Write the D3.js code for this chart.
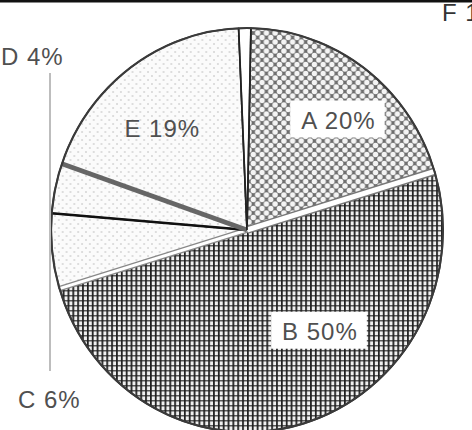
<!DOCTYPE html>
<html>
<head>
<meta charset="utf-8">
<script src="https://cdn.jsdelivr.net/npm/d3@7"></script>
<style>
  html, body { margin: 0; padding: 0; background: #fff; }
  svg { display: block; }
  text { font-family: "Liberation Sans", Arial, sans-serif; }
</style>
</head>
<body>
<svg id="chart" width="472" height="430"></svg>
<script>
// ---- data ----
const categories = ["A", "B", "C", "D", "E", "F"];
const values = [20, 50, 6, 4, 19, 1];
const labels = ["A 20%", "B 50%", "C 6%", "D 4%", "E 19%", "F 1%"];
const fills = ["diamond", "grid", "dots", "dots", "dots", "white"];

// ---- layout ----
const W = 472, H = 430;
const cx = 247, cy = 230, R = 202, xScale = 0.97;
const rot = 0.02;

const svg = d3.select("#chart");
const defs = svg.append("defs");

// diamond lattice pattern (A)
const pA = defs.append("pattern").attr("id", "diamond").attr("patternUnits", "userSpaceOnUse")
  .attr("width", 9).attr("height", 9).attr("patternTransform", "translate(2,1)");
pA.append("rect").attr("width", 9).attr("height", 9).attr("fill", "#6e6e6e");
[[0,0],[9,0],[0,9],[9,9],[4.5,4.5]].forEach(([x,y]) =>
  pA.append("circle").attr("cx", x).attr("cy", y).attr("r", 2.8).attr("fill", "#f4f4f4"));

// grid pattern (B)
const pB = defs.append("pattern").attr("id", "grid").attr("patternUnits", "userSpaceOnUse")
  .attr("width", 5).attr("height", 5);
pB.append("rect").attr("width", 5).attr("height", 5).attr("fill", "#f0f0f0");
pB.append("rect").attr("x", 0).attr("y", 0).attr("width", 5).attr("height", 1.5).attr("fill", "#5a5a5a");
pB.append("rect").attr("x", 0).attr("y", 0).attr("width", 1.8).attr("height", 5).attr("fill", "#1e1e1e");

// light dots pattern (C, D, E)
const pD = defs.append("pattern").attr("id", "dots").attr("patternUnits", "userSpaceOnUse")
  .attr("width", 8).attr("height", 8);
pD.append("rect").attr("width", 8).attr("height", 8).attr("fill", "#fbfbfb");
[[2,2],[6,6]].forEach(([x,y]) =>
  pD.append("circle").attr("cx", x).attr("cy", y).attr("r", 0.8).attr("fill", "#b8b8b8"));

const fillOf = k => k === "white" ? "#ffffff" : `url(#${k})`;

// top rule
svg.append("rect").attr("x", 0).attr("y", 0).attr("width", W).attr("height", 2.5).attr("fill", "#111");

const pie = d3.pie().sort(null).value(d => d).startAngle(rot).endAngle(rot + 2 * Math.PI);
const arcs = pie(values);
const arc = d3.arc().innerRadius(0).outerRadius(R);

const g = svg.append("g").attr("transform", `translate(${cx},${cy}) scale(${xScale},1)`);

g.selectAll("path.slice").data(arcs).join("path")
  .attr("class", "slice")
  .attr("d", arc)
  .attr("fill", (d, i) => fillOf(fills[i]))
  .attr("stroke", "#3a3a3a")
  .attr("stroke-width", 1.6)
  .attr("stroke-linejoin", "round");

// separator styles keyed by slice start (boundary between previous slice and this one)
const sepStyle = {
  B: [{ c: "#777", w: 8 }, { c: "#fff", w: 5 }],
  C: [{ c: "#888", w: 5.5 }, { c: "#fff", w: 3 }],
  D: [{ c: "#111", w: 2.6 }],
  E: [{ c: "#666", w: 5 }],
  F: [{ c: "#222", w: 1.8 }],
  A: [{ c: "#222", w: 1.8 }]
};
arcs.forEach((d, i) => {
  const a = d.startAngle;
  const x2 = Math.sin(a) * R, y2 = -Math.cos(a) * R;
  (sepStyle[categories[i]] || []).forEach(s => {
    g.append("line").attr("x1", 0).attr("y1", 0).attr("x2", x2).attr("y2", y2)
      .attr("stroke", s.c).attr("stroke-width", s.w).attr("stroke-linecap", "butt");
  });
});

// outer outline
g.append("circle").attr("r", R).attr("fill", "none").attr("stroke", "#3a3a3a").attr("stroke-width", 2.2);

// ---- labels ----
function polar(a, r) {
  return [cx + Math.sin(a) * r * xScale, cy - Math.cos(a) * r];
}
const fs = 24;
function boxedLabel(text, a, r, boxed, color) {
  const [x, y] = polar(a, r);
  const grp = svg.append("g");
  const t = grp.append("text").attr("x", x).attr("y", y).attr("dy", "0.36em")
    .attr("text-anchor", "middle").attr("font-size", fs).attr("letter-spacing", 1)
    .attr("fill", color).text(text);
  if (boxed) {
    const bb = t.node().getBBox();
    grp.insert("rect", "text").attr("x", bb.x - 11).attr("y", bb.y - 6)
      .attr("width", bb.width + 20).attr("height", bb.height + 10).attr("fill", "#fff");
  }
}
const mid = d => (d.startAngle + d.endAngle) / 2;
// A
boxedLabel(labels[0], mid(arcs[0]) + 0.06, 145, true, "#505050");
// B
boxedLabel(labels[1], arcs[1].startAngle + 0.39 * (arcs[1].endAngle - arcs[1].startAngle), 126, true, "#505050");
// E
boxedLabel(labels[4], mid(arcs[4]) - 0.07, 134, false, "#505050");

// outside labels for D and C with leader line
svg.append("line").attr("x1", 50).attr("y1", 73).attr("x2", 50).attr("y2", 371)
  .attr("stroke", "#bdbdbd").attr("stroke-width", 2);
svg.append("text").attr("x", 1).attr("y", 65).attr("font-size", fs).attr("letter-spacing", 1)
  .attr("fill", "#505050").text(labels[3]);
svg.append("text").attr("x", 18).attr("y", 408).attr("font-size", fs).attr("letter-spacing", 1)
  .attr("fill", "#505050").text(labels[2]);
// F label (cut at the right edge, as in the reference)
svg.append("text").attr("x", 442).attr("y", 21).attr("font-size", fs).attr("letter-spacing", 1)
  .attr("fill", "#333").text(labels[5]);
</script>
</body>
</html>
